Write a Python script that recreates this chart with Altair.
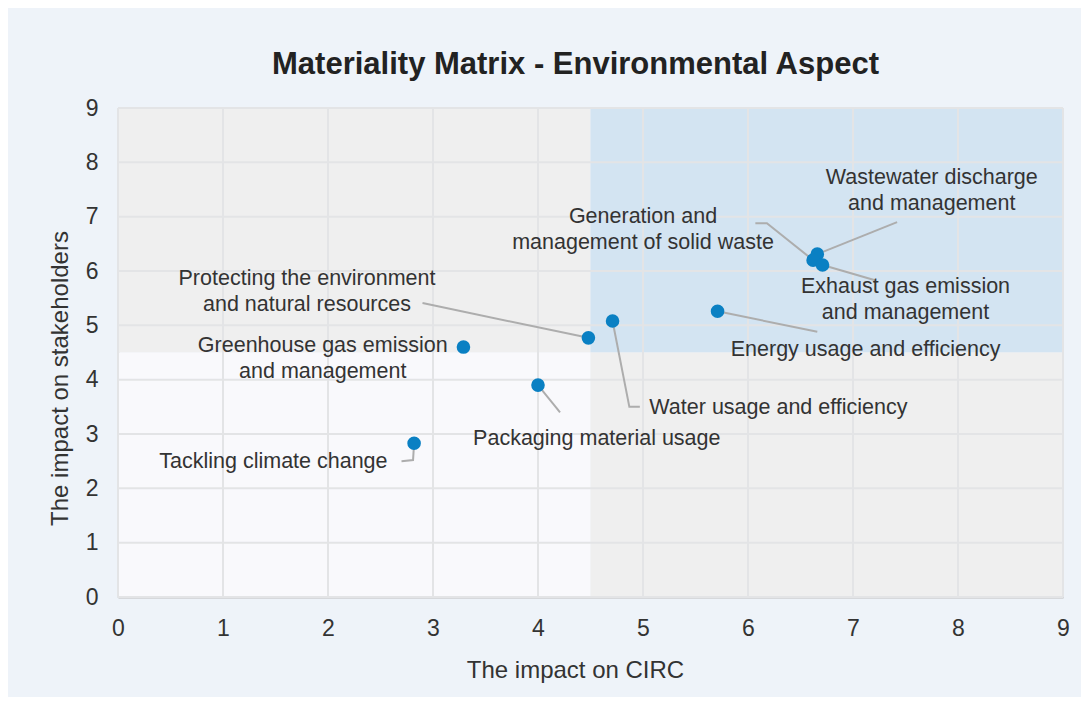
import altair as alt
import pandas as pd

# ---- data ----
topics = [
    "Wastewater discharge and management",
    "Generation and management of solid waste",
    "Exhaust gas emission and management",
    "Energy usage and efficiency",
    "Water usage and efficiency",
    "Packaging material usage",
    "Protecting the environment and natural resources",
    "Greenhouse gas emission and management",
    "Tackling climate change",
]
impact_circ = [6.66, 6.62, 6.71, 5.71, 4.71, 4.00, 4.48, 3.29, 2.82]
impact_stakeholders = [6.31, 6.20, 6.11, 5.26, 5.08, 3.90, 4.77, 4.60, 2.83]

label_text = [
    "Wastewater discharge\nand management",
    "Generation and\nmanagement of solid waste",
    "Exhaust gas emission\nand management",
    "Energy usage and efficiency",
    "Water usage and efficiency",
    "Packaging material usage",
    "Protecting the environment\nand natural resources",
    "Greenhouse gas emission\nand management",
    "Tackling climate change",
]
# label anchor (data units, first line)
label_x = [7.75, 5.00, 7.50, 7.12, 6.29, 4.56, 1.80, 1.95, 1.48]
label_y = [7.71, 6.99, 5.71, 4.55, 3.48, 2.91, 5.85, 4.62, 2.49]

# leader-line waypoints from label toward the point (data units)
leader_x = [[7.42], [6.07, 6.18], [7.21], [6.66], [4.97, 4.87], [4.21], [2.90], [], [2.70, 2.81]]
leader_y = [[6.90], [6.88, 6.88], [5.83], [4.88], [3.50, 3.50], [3.40], [5.41], [], [2.50, 2.52]]

ticks = [0, 1, 2, 3, 4, 5, 6, 7, 8, 9]

# quadrants
quad_x = [0, 4.5, 0, 4.5]
quad_x2 = [4.5, 9, 4.5, 9]
quad_y = [4.5, 4.5, 0, 0]
quad_y2 = [9, 9, 4.5, 4.5]
quad_color = ["#efefef", "#d3e4f2", "#f9f9fc", "#efefef"]

# ---- tables ----
pts = pd.DataFrame({"topic": topics, "circ": impact_circ, "stake": impact_stakeholders})
labels = pd.DataFrame({"topic": topics, "text": label_text, "lx": label_x, "ly": label_y})
quads = pd.DataFrame({"x": quad_x, "x2": quad_x2, "y": quad_y, "y2": quad_y2, "c": quad_color})
grid = pd.DataFrame({"t": ticks})

rows = []
for i, t in enumerate(topics):
    if not leader_x[i]:
        continue
    seq = 0
    for wx, wy in zip(leader_x[i], leader_y[i]):
        rows.append({"topic": t, "seq": seq, "x": wx, "y": wy})
        seq += 1
    rows.append({"topic": t, "seq": seq, "x": impact_circ[i], "y": impact_stakeholders[i]})
leaders = pd.DataFrame(rows)

FONT = "Liberation Sans"
xscale = alt.Scale(domain=[0, 9], nice=False, zero=False)
yscale = alt.Scale(domain=[0, 9], nice=False, zero=False)

quad_layer = alt.Chart(quads).mark_rect().encode(
    x=alt.X("x:Q", scale=xscale, axis=alt.Axis(
        values=ticks, format="d", grid=False, ticks=False, domainColor="#bdbdbd", domainWidth=2,
        labelFontSize=23, labelColor="#333333", labelFont=FONT, labelPadding=20, labelFlush=False,
        title="The impact on CIRC", titleFont=FONT, titleFontSize=24,
        titleFontWeight="normal", titleColor="#333333", titleX=457, titleY=73,
        titleBaseline="middle", titleAlign="center")),
    x2="x2:Q",
    y=alt.Y("y:Q", scale=yscale, axis=alt.Axis(
        values=ticks, format="d", grid=False, ticks=False, domainColor="#bdbdbd", domainWidth=2,
        labelFontSize=23, labelColor="#333333", labelFont=FONT, labelPadding=20, labelFlush=False,
        title="The impact on stakeholders", titleFont=FONT, titleFontSize=24,
        titleFontWeight="normal", titleColor="#333333", titleX=-58, titleY=270,
        titleBaseline="middle", titleAlign="center")),
    y2="y2:Q",
    color=alt.Color("c:N", scale=None),
)

vgrid = alt.Chart(grid).mark_rule(color="#e3e4e6", strokeWidth=2).encode(
    x=alt.X("t:Q", scale=xscale), y=alt.value(0), y2=alt.value(489))
hgrid = alt.Chart(grid).mark_rule(color="#e3e4e6", strokeWidth=2).encode(
    y=alt.Y("t:Q", scale=yscale), x=alt.value(0), x2=alt.value(945))

leader_layer = alt.Chart(leaders).mark_line(color="#adadad", strokeWidth=2).encode(
    x=alt.X("x:Q", scale=xscale), y=alt.Y("y:Q", scale=yscale),
    detail="topic:N", order="seq:Q")

point_layer = alt.Chart(pts).mark_circle(size=185, opacity=1, color="#0a80c3").encode(
    x=alt.X("circ:Q", scale=xscale), y=alt.Y("stake:Q", scale=yscale))

text_layer = alt.Chart(labels).mark_text(
    font=FONT, fontSize=21.5, color="#333333", lineBreak="\n", lineHeight=26,
    align="center", baseline="middle").encode(
    x=alt.X("lx:Q", scale=xscale), y=alt.Y("ly:Q", scale=yscale), text="text:N")

chart = alt.layer(quad_layer, vgrid, hgrid, leader_layer, point_layer, text_layer).properties(
    width=945, height=489,
    autosize=alt.AutoSizeParams(type="none"),
    padding={"left": 110, "top": 100, "right": 18, "bottom": 100},
    background="#eef3f9",
    title=alt.TitleParams("Materiality Matrix - Environmental Aspect", font=FONT, fontSize=31,
                          fontWeight="bold", color="#222222", anchor="middle", dx=-15, offset=16),
).configure_view(stroke=None)

chart.save("out.html", embed_options={"renderer": "svg", "actions": False})
